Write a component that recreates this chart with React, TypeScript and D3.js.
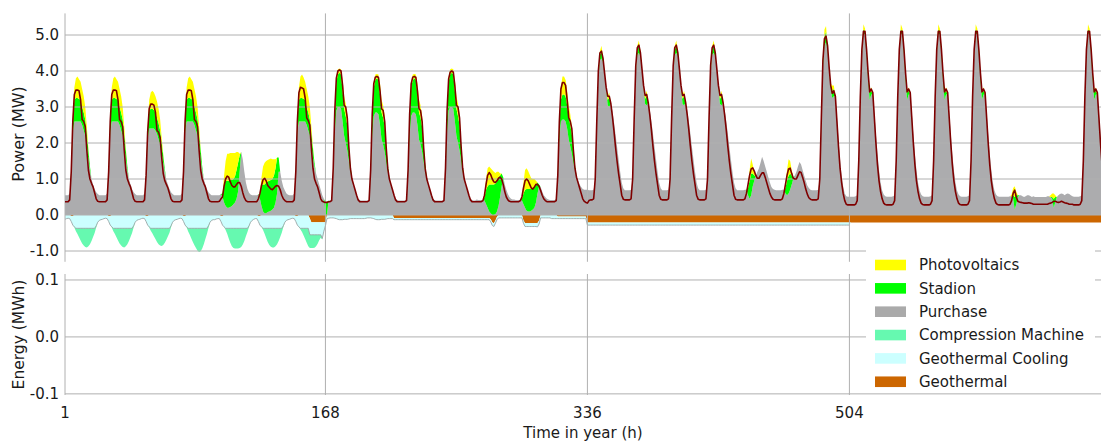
import React from "react";
import * as d3 from "d3";

// ---- hourly profiles, one row of 24 values per day (MW) ----

// Electrical load (line)
const load_w1 = [0.37,0.37,0.37,0.42,1.2,2.6, 3.35,3.47,3.47,3.45,3.2,2.65, 2.6,2.45,1.8,1.25,1.0,0.88, 0.78,0.62,0.45,0.38,0.37,0.37];
const load_w1_d2 = [0.37,0.37,0.37,0.42,1.1,2.3, 2.95,3.08,3.08,3.05,2.85,2.35, 2.3,2.15,1.6,1.15,0.95,0.85, 0.75,0.6,0.45,0.38,0.37,0.37];
const load_w1_d4 = [0.37,0.37,0.37,0.38,0.45,0.5, 0.8,1.0,1.08,1.05,0.92,0.82, 0.78,0.78,0.85,0.9,0.9,0.8, 0.62,0.48,0.4,0.37,0.37,0.37];
const load_w1_d5 = [0.37,0.37,0.37,0.37,0.45,0.6, 0.82,0.98,1.02,0.95,0.82,0.77, 0.72,0.7,0.75,0.8,0.82,0.8, 0.7,0.55,0.45,0.4,0.37,0.37];
const load_w1_d6 = [0.37,0.37,0.37,0.42,1.2,2.6, 3.4,3.55,3.53,3.5,3.25,2.7, 2.62,2.5,1.85,1.3,1.0,0.88, 0.78,0.62,0.45,0.38,0.36,0.35];
const load_w2_d7 = [0.35,0.37,0.37,0.4,1.3,2.9, 3.8,4.0,4.03,4.0,3.6,3.05, 3.0,2.7,1.9,1.3,1.0,0.85, 0.7,0.55,0.42,0.37,0.37,0.37];
const load_w2_d8 = [0.37,0.37,0.37,0.4,1.25,2.8, 3.65,3.83,3.85,3.82,3.45,2.95, 2.9,2.6,1.85,1.28,1.0,0.85, 0.7,0.55,0.42,0.37,0.37,0.37];
const load_w2_d10 = [0.37,0.37,0.37,0.4,1.3,2.9, 3.78,3.97,4.0,3.97,3.58,3.05, 3.0,2.7,1.9,1.3,1.0,0.85, 0.7,0.55,0.42,0.37,0.37,0.37];
const load_w2_d11 = [0.37,0.37,0.37,0.37,0.4,0.55, 0.85,1.1,1.18,1.12,1.0,0.92, 0.9,0.95,1.02,1.05,1.0,0.85, 0.65,0.5,0.42,0.38,0.37,0.37];
const load_w2_d12 = [0.37,0.37,0.37,0.37,0.4,0.5, 0.75,0.95,1.0,0.95,0.85,0.75, 0.72,0.78,0.85,0.85,0.8,0.68, 0.55,0.45,0.4,0.37,0.37,0.37];
const load_w2_d13 = [0.37,0.37,0.37,0.4,1.1,2.6, 3.5,3.68,3.68,3.6,3.2,2.7, 2.6,2.4,1.8,1.3,1.05,0.9, 0.75,0.6,0.45,0.38,0.35,0.33];
const load_w3_d14 = [0.4,0.42,0.42,0.45,1.0,2.6, 4.0,4.5,4.55,4.35,3.95,3.55, 3.3,3.3,3.1,2.75,2.35,1.9, 1.5,1.15,0.85,0.55,0.44,0.42];
const load_w3_d15 = [0.42,0.42,0.42,0.45,1.0,2.7, 4.15,4.65,4.72,4.5,4.05,3.6, 3.32,3.35,3.12,2.78,2.38,1.92, 1.5,1.15,0.85,0.55,0.44,0.42];
const load_w3_d18 = [0.42,0.42,0.42,0.42,0.45,0.6, 0.85,1.1,1.28,1.31,1.22,1.1, 1.02,1.02,1.1,1.17,1.17,1.05, 0.9,0.75,0.6,0.5,0.44,0.42];
const load_w3_d19 = [0.42,0.42,0.42,0.42,0.45,0.6, 0.85,1.1,1.28,1.3,1.15,1.02, 1.0,1.0,1.1,1.2,1.18,1.05, 0.9,0.72,0.58,0.48,0.44,0.42];
const load_w3_d20 = [0.42,0.42,0.42,0.45,1.0,2.7, 4.3,4.9,4.97,4.7,4.1,3.6, 3.38,3.45,3.3,2.6,1.9,1.3, 0.9,0.6,0.4,0.3,0.28,0.28];
const load_w4 = [0.28,0.28,0.28,0.3,0.4,1.5, 3.3,4.6,5.1,5.1,4.6,3.95, 3.42,3.5,3.4,2.7,2.0,1.4, 0.95,0.65,0.45,0.33,0.29,0.28];
const load_w4_d25 = [0.28,0.28,0.28,0.28,0.28,0.28, 0.3,0.4,0.6,0.69,0.5,0.38, 0.36,0.35,0.34,0.33,0.33,0.33, 0.34,0.33,0.32,0.3,0.3,0.3];
const load_w4_d26 = [0.3,0.3,0.3,0.3,0.3,0.3, 0.3,0.32,0.33,0.35,0.38,0.38, 0.36,0.35,0.36,0.38,0.36,0.34, 0.33,0.32,0.3,0.3,0.3,0.28];

// Purchase
const buy_w1 = [0.55,0.55,0.55,0.6,1.2,2.3, 2.6,2.6,2.6,2.6,2.6,2.5, 2.35,2.2,1.9,1.55,1.25,1.0, 0.85,0.72,0.63,0.58,0.55,0.55];
const buy_w1_d2 = [0.55,0.55,0.55,0.6,1.1,2.1, 2.4,2.4,2.4,2.4,2.35,2.25, 2.1,1.95,1.7,1.45,1.2,0.98, 0.85,0.72,0.63,0.58,0.55,0.55];
const buy_w1_d4 = [0.55,0.55,0.55,0.55,0.58,0.5, 0.35,0.25,0.2,0.2,0.22,0.25, 0.3,0.35,0.45,0.65,1.2,1.75, 1.55,1.2,0.9,0.72,0.62,0.57];
const buy_w1_d5 = [0.55,0.55,0.55,0.55,0.57,0.45, 0.25,0.1,0.05,0.05,0.08,0.1, 0.12,0.15,0.2,0.35,0.6,1.2, 1.2,0.95,0.78,0.68,0.6,0.56];
const buy_w1_d6 = [0.55,0.55,0.55,0.6,1.2,2.3, 2.6,2.6,2.6,2.6,2.6,2.5, 2.35,2.2,1.9,1.6,1.35,1.15, 1.0,0.85,0.7,0.55,0.45,0];
const buy_w2_d7 = [0,0.4,0.4,0.42,1.2,2.3, 2.9,3.0,3.0,2.95,2.6,2.2, 2.0,1.8,1.5,1.2,1.0,0.85, 0.7,0.55,0.45,0.42,0.4,0.4];
const buy_w2_d8 = [0.4,0.4,0.4,0.42,1.15,2.2, 2.75,2.85,2.85,2.8,2.5,2.1, 1.95,1.75,1.45,1.2,1.0,0.85, 0.7,0.55,0.45,0.42,0.4,0.4];
const buy_w2_d10 = [0.4,0.4,0.4,0.42,1.2,2.3, 2.9,3.0,3.0,2.95,2.6,2.2, 2.0,1.8,1.5,1.2,1.0,0.85, 0.7,0.55,0.45,0.42,0.4,0.4];
const buy_w2_d11 = [0.43,0.42,0.42,0.42,0.42,0.4, 0.3,0.2,0.1,0.05,0,0, 0.02,0.1,0.25,0.5,0.8,1.0, 0.85,0.7,0.58,0.5,0.45,0.43];
const buy_w2_d12 = [0.43,0.42,0.42,0.42,0.42,0.4, 0.3,0.2,0.12,0.1,0.1,0.12, 0.15,0.2,0.35,0.6,0.8,0.78, 0.65,0.55,0.5,0.45,0.43,0.42];
const buy_w2_d13 = [0.42,0.42,0.42,0.45,1.0,2.1, 2.6,2.65,2.65,2.6,2.4,2.1, 1.9,1.7,1.45,1.25,1.1,0.95, 0.85,0.78,0.72,0.7,0.7,0.7];
const buy_w3_d14 = [0.69,0.69,0.69,0.7,1.0,2.5, 3.8,4.3,4.35,4.25,3.95,3.5, 3.05,3.0,3.1,2.9,2.6,2.25, 1.9,1.55,1.2,0.9,0.74,0.69];
const buy_w3_d15 = [0.69,0.69,0.69,0.7,1.0,2.6, 3.95,4.45,4.5,4.4,4.05,3.55, 3.08,3.05,3.12,2.92,2.62,2.27, 1.9,1.55,1.2,0.9,0.74,0.69];
const buy_w3_d18 = [0.69,0.69,0.69,0.69,0.7,0.7, 0.55,0.45,0.55,0.8,0.95,1.1, 1.2,1.3,1.45,1.62,1.5,1.35, 1.2,1.05,0.9,0.78,0.72,0.7];
const buy_w3_d19 = [0.69,0.69,0.69,0.69,0.7,0.7, 0.6,0.55,0.6,0.7,0.85,1.0, 1.1,1.2,1.35,1.47,1.4,1.25, 1.1,0.95,0.82,0.75,0.7,0.69];
const buy_w3_d20 = [0.69,0.69,0.69,0.7,1.0,2.6, 4.1,4.7,4.8,4.55,4.05,3.5, 3.25,3.3,3.3,2.75,2.1,1.55, 1.1,0.8,0.6,0.52,0.51,0.51];
const buy_w4 = [0.51,0.51,0.51,0.52,0.55,1.5, 3.2,4.45,5.05,5.0,4.45,3.75, 3.2,3.35,3.35,2.85,2.25,1.7, 1.25,0.9,0.68,0.57,0.52,0.51];
const buy_w4_d25 = [0.51,0.51,0.51,0.51,0.51,0.51, 0.52,0.52,0.45,0.15,0.3,0.5, 0.55,0.55,0.52,0.5,0.52,0.55, 0.55,0.53,0.5,0.52,0.5,0.5];
const buy_w4_d26 = [0.5,0.5,0.5,0.5,0.5,0.5, 0.52,0.52,0.5,0.45,0.2,0.35, 0.5,0.55,0.58,0.6,0.58,0.55, 0.58,0.6,0.58,0.55,0.52,0.51];

// Stadion
const chp_w1 = [0,0,0,0,0.05,0.35, 0.6,0.65,0.65,0.62,0.6,0.5, 0.5,0.45,0.35,0.25,0.1,0, 0,0,0,0,0,0];
const chp_w1_d2 = [0,0,0,0,0.05,0.3, 0.5,0.55,0.55,0.52,0.5,0.45, 0.45,0.4,0.3,0.2,0.08,0, 0,0,0,0,0,0];
const chp_w1_d4 = [0,0,0,0,0,0.1, 0.55,0.7,0.75,0.75,0.75,0.72, 0.7,0.72,0.8,0.8,0.45,0, 0,0,0,0,0,0];
const chp_w1_d5 = [0,0,0,0,0,0.15, 0.6,0.75,0.8,0.85,0.85,0.85, 0.85,0.85,0.9,0.95,1.0,0.4, 0,0,0,0,0,0];
const chp_w1_d6 = [0,0,0,0,0.05,0.35, 0.6,0.65,0.65,0.62,0.6,0.5, 0.5,0.45,0.35,0.25,0.1,0, 0,0,0,0,0,0.35];
const chp_w2_d7 = [0.37,0,0,0,0.1,0.5, 0.8,0.9,0.95,0.95,0.85,0.75, 0.75,0.7,0.45,0.2,0.05,0, 0,0,0,0,0,0];
const chp_w2 = [0,0,0,0,0.1,0.5, 0.8,0.9,0.95,0.95,0.85,0.75, 0.75,0.7,0.45,0.2,0.05,0, 0,0,0,0,0,0];
const chp_w2_d11 = [0,0,0,0,0,0.1, 0.4,0.6,0.75,0.8,0.85,0.85, 0.85,0.85,0.8,0.6,0.35,0.05, 0,0,0,0,0,0];
const chp_w2_d12 = [0,0,0,0,0,0.05, 0.3,0.5,0.6,0.62,0.62,0.6, 0.6,0.6,0.5,0.3,0.05,0, 0,0,0,0,0,0];
const chp_w2_d13 = [0,0,0,0,0.1,0.4, 0.6,0.7,0.7,0.7,0.65,0.6, 0.6,0.55,0.4,0.15,0,0, 0,0,0,0,0,0];
const chp_w3 = [0,0,0,0,0,0, 0,0.15,0.2,0.1,0,0, 0.15,0.25,0,0,0,0, 0,0,0,0,0,0];
const chp_w3_d18 = [0,0,0,0,0,0, 0.2,0.5,0.6,0.35,0.15,0, 0,0,0,0,0,0, 0,0,0,0,0,0];
const chp_w3_d19 = [0,0,0,0,0,0, 0.15,0.4,0.5,0.45,0.25,0.05, 0,0,0,0,0,0, 0,0,0,0,0,0];
const chp_w3_d20 = [0,0,0,0,0,0.1, 0.15,0.25,0.3,0.15,0,0.1, 0.2,0.2,0,0,0,0, 0,0,0,0,0,0];
const chp_w4 = [0,0,0,0,0,0, 0,0.05,0.1,0.1,0.2,0.2, 0.2,0.1,0,0,0,0, 0,0,0,0,0,0];
const chp_w4_d25 = [0,0,0,0,0,0, 0,0,0.1,0.35,0.25,0.05, 0,0,0,0,0,0, 0,0,0,0,0,0];
const chp_w4_d26 = [0,0,0,0,0,0, 0,0,0,0.05,0.25,0.15, 0,0,0,0,0,0, 0,0,0,0,0,0];

// Photovoltaics
const pv_w1 = [0,0,0,0,0,0.1, 0.35,0.55,0.6,0.55,0.5,0.5, 0.45,0.35,0.2,0.05,0,0, 0,0,0,0,0,0];
const pv_w1_d2 = [0,0,0,0,0,0.08, 0.3,0.45,0.5,0.48,0.45,0.45, 0.4,0.3,0.15,0.05,0,0, 0,0,0,0,0,0];
const pv_w1_d4 = [0,0,0,0,0,0, 0.2,0.55,0.75,0.75,0.75,0.75, 0.72,0.65,0.5,0.3,0.05,0, 0,0,0,0,0,0];
const pv_w1_d5 = [0,0,0,0,0,0, 0.2,0.5,0.6,0.6,0.6,0.6, 0.6,0.55,0.45,0.25,0,0, 0,0,0,0,0,0];
const pv_w1_d6 = [0,0,0,0,0,0.1, 0.35,0.6,0.65,0.6,0.5,0.5, 0.45,0.35,0.2,0.05,0,0, 0,0,0,0,0,0];
const pv_w2 = [0,0,0,0,0,0.1, 0.15,0.15,0.12,0.15,0.3,0.35, 0.35,0.3,0.05,0,0,0, 0,0,0,0,0,0];
const pv_w2_d11 = [0,0,0,0,0,0.05, 0.3,0.5,0.5,0.45,0.4,0.35, 0.3,0.25,0.15,0.05,0,0, 0,0,0,0,0,0];
const pv_w2_d12 = [0,0,0,0,0,0.05, 0.3,0.55,0.58,0.5,0.4,0.3, 0.25,0.2,0.1,0,0,0, 0,0,0,0,0,0];
const pv_w2_d13 = [0,0,0,0,0,0.15, 0.35,0.5,0.5,0.45,0.4,0.35, 0.3,0.2,0.05,0,0,0, 0,0,0,0,0,0];
const pv_w3 = [0,0,0,0,0,0, 0,0.1,0.15,0.05,0,0, 0.1,0.15,0,0,0,0, 0,0,0,0,0,0];
const pv_w3_d18 = [0,0,0,0,0,0, 0.1,0.3,0.42,0.25,0.1,0, 0,0,0,0,0,0, 0,0,0,0,0,0];
const pv_w3_d19 = [0,0,0,0,0,0, 0.1,0.3,0.45,0.35,0.15,0, 0,0,0,0,0,0, 0,0,0,0,0,0];
const pv_w3_d20 = [0,0,0,0,0,0, 0.1,0.2,0.15,0.05,0,0.05, 0.15,0.1,0,0,0,0, 0,0,0,0,0,0];
const pv_w4 = [0,0,0,0,0,0, 0,0.05,0.15,0.08,0,0, 0.05,0.1,0,0,0,0, 0,0,0,0,0,0];
const pv_w4_d25 = [0,0,0,0,0,0, 0,0.05,0.2,0.3,0.1,0, 0,0,0,0,0,0, 0,0,0,0,0,0];
const pv_w4_d26 = [0,0,0,0,0,0, 0,0,0.05,0.1,0.15,0.05, 0,0,0,0,0,0, 0,0,0,0,0,0];

// Geothermal (drawn downward from zero)
const ZERO = [0,0,0,0,0,0, 0,0,0,0,0,0, 0,0,0,0,0,0, 0,0,0,0,0,0];
const geo_w1 = [0,0,0,0,0.03,0.03, 0,0,0,0,0,0, 0,0,0,0,0,0, 0,0,0,0,0,0];
const geo_w1_d6 = [0,0,0,0,0.03,0.03, 0,0,0,0,0,0, 0,0.1,0.2,0.2,0.2,0.2, 0.2,0.2,0.2,0.2,0.2,0.2];
const geo_w2_d8 = [0,0,0,0,0,0, 0,0,0,0,0,0, 0,0,0,0,0,0, 0,0.08,0.08,0.08,0.08,0.08];
const geo_w2_thin = [0.08,0.08,0.08,0.08,0.08,0.08, 0.08,0.08,0.08,0.08,0.08,0.08, 0.08,0.08,0.08,0.08,0.08,0.08, 0.08,0.08,0.08,0.08,0.08,0.08];
const geo_w2_d11 = [0.08,0.08,0.08,0.08,0.08,0.08, 0.08,0.08,0.08,0.12,0.2,0.23, 0.15,0.05,0,0,0,0, 0,0,0,0,0,0];
const geo_w2_d12 = [0,0,0,0,0,0, 0.15,0.22,0.22,0.22,0.22,0.22, 0.22,0.22,0.22,0.22,0.15,0, 0,0,0,0,0,0];
const geo_w2_d13 = [0,0,0,0,0.04,0.04, 0.04,0.04,0.04,0.04,0.04,0.04, 0.04,0.04,0.04,0.04,0.04,0.04, 0.04,0.04,0.04,0.04,0.04,0.21];
const geo_full = [0.21,0.21,0.21,0.21,0.21,0.21, 0.21,0.21,0.21,0.21,0.21,0.21, 0.21,0.21,0.21,0.21,0.21,0.21, 0.21,0.21,0.21,0.21,0.21,0.21];

// Geothermal cooling
const cool_w1 = [0.12,0.1,0.09,0.1,0.15,0.25, 0.33,0.37,0.37,0.37,0.37,0.37, 0.37,0.37,0.37,0.37,0.37,0.37, 0.37,0.37,0.3,0.2,0.15,0.13];
const cool_w1_d4 = [0.13,0.11,0.1,0.1,0.15,0.25, 0.33,0.37,0.37,0.37,0.37,0.37, 0.37,0.37,0.37,0.37,0.37,0.37, 0.37,0.37,0.37,0.37,0.3,0.2];
const cool_w1_d5 = [0.15,0.12,0.1,0.1,0.15,0.25, 0.33,0.37,0.37,0.37,0.37,0.37, 0.37,0.37,0.37,0.37,0.37,0.37, 0.37,0.37,0.3,0.2,0.15,0.13];
const cool_w1_d6 = [0.12,0.1,0.09,0.1,0.15,0.25, 0.33,0.37,0.37,0.37,0.37,0.37, 0.37,0.45,0.35,0.35,0.35,0.35, 0.35,0.35,0.35,0.45,0.25,0.1];
const cool_w2_d7 = [0.1,0.09,0.08,0.08,0.08,0.09, 0.1,0.12,0.13,0.13,0.13,0.12, 0.12,0.12,0.11,0.1,0.1,0.1, 0.1,0.1,0.1,0.1,0.1,0.1];
const cool_w2_d8 = [0.1,0.09,0.08,0.08,0.08,0.09, 0.1,0.12,0.13,0.13,0.13,0.12, 0.12,0.12,0.11,0.1,0.1,0.1, 0.1,0.05,0.05,0.05,0.05,0.05];
const cool_w2_thin = [0.05,0.05,0.05,0.05,0.05,0.05, 0.05,0.05,0.05,0.05,0.05,0.05, 0.05,0.05,0.05,0.05,0.05,0.05, 0.05,0.05,0.05,0.05,0.05,0.05];
const cool_w2_d11 = [0.05,0.05,0.05,0.05,0.05,0.05, 0.05,0.05,0.05,0.07,0.09,0.09, 0.08,0.08,0.08,0.08,0.08,0.08, 0.08,0.08,0.08,0.08,0.08,0.08];
const cool_w2_d12 = [0.08,0.08,0.08,0.08,0.08,0.08, 0.08,0.1,0.1,0.1,0.1,0.1, 0.1,0.1,0.1,0.11,0.1,0.08, 0.08,0.08,0.08,0.08,0.08,0.08];
const cool_w2_d13 = [0.1,0.1,0.1,0.1,0.06,0.06, 0.06,0.06,0.06,0.06,0.06,0.06, 0.06,0.06,0.06,0.06,0.06,0.06, 0.06,0.06,0.06,0.06,0.06,0.07];
const cool_w3 = [0.07,0.07,0.07,0.07,0.07,0.07, 0.07,0.07,0.07,0.07,0.07,0.07, 0.07,0.07,0.07,0.07,0.07,0.07, 0.07,0.07,0.07,0.07,0.07,0.07];

// Compression machine
const comp_w1 = [0,0,0,0,0,0, 0.02,0.08,0.16,0.25,0.34,0.42, 0.48,0.52,0.53,0.5,0.44,0.35, 0.24,0.13,0.05,0,0,0];
const comp_w1_d2 = [0,0,0,0,0,0, 0.02,0.07,0.14,0.22,0.3,0.38, 0.44,0.48,0.49,0.46,0.4,0.32, 0.22,0.12,0.04,0,0,0];
const comp_w1_d3 = [0,0,0,0,0,0, 0.02,0.09,0.18,0.28,0.38,0.47, 0.55,0.62,0.66,0.64,0.56,0.44, 0.3,0.16,0.06,0,0,0];
const comp_w1_d4 = [0,0,0,0,0,0, 0,0.05,0.15,0.28,0.4,0.5, 0.55,0.56,0.56,0.56,0.55,0.52, 0.45,0.35,0.22,0.1,0.03,0];
const comp_w1_d5 = [0,0,0,0,0,0, 0,0.05,0.15,0.27,0.38,0.46, 0.51,0.53,0.53,0.5,0.44,0.35, 0.24,0.12,0.04,0,0,0];
const comp_w1_d6 = [0,0,0,0,0,0, 0,0.03,0.1,0.2,0.3,0.4, 0.5,0.37,0.37,0.37,0.36,0.32, 0.25,0.15,0.08,0.03,0,0];

// ---- day sequences (4 weeks) ----
const loadDays = [
  load_w1, load_w1, load_w1_d2, load_w1, load_w1_d4, load_w1_d5, load_w1_d6,
  load_w2_d7, load_w2_d8, load_w2_d8, load_w2_d10, load_w2_d11, load_w2_d12, load_w2_d13,
  load_w3_d14, load_w3_d15, load_w3_d15, load_w3_d15, load_w3_d18, load_w3_d19, load_w3_d20,
  load_w4, load_w4, load_w4, load_w4, load_w4_d25, load_w4_d26, load_w4,
];
const purchaseDays = [
  buy_w1, buy_w1, buy_w1_d2, buy_w1, buy_w1_d4, buy_w1_d5, buy_w1_d6,
  buy_w2_d7, buy_w2_d8, buy_w2_d8, buy_w2_d10, buy_w2_d11, buy_w2_d12, buy_w2_d13,
  buy_w3_d14, buy_w3_d15, buy_w3_d15, buy_w3_d15, buy_w3_d18, buy_w3_d19, buy_w3_d20,
  buy_w4, buy_w4, buy_w4, buy_w4, buy_w4_d25, buy_w4_d26, buy_w4,
];
const stadionDays = [
  chp_w1, chp_w1, chp_w1_d2, chp_w1, chp_w1_d4, chp_w1_d5, chp_w1_d6,
  chp_w2_d7, chp_w2, chp_w2, chp_w2, chp_w2_d11, chp_w2_d12, chp_w2_d13,
  chp_w3, chp_w3, chp_w3, chp_w3, chp_w3_d18, chp_w3_d19, chp_w3_d20,
  chp_w4, chp_w4, chp_w4, chp_w4, chp_w4_d25, chp_w4_d26, chp_w4,
];
const pvDays = [
  pv_w1, pv_w1, pv_w1_d2, pv_w1, pv_w1_d4, pv_w1_d5, pv_w1_d6,
  pv_w2, pv_w2, pv_w2, pv_w2, pv_w2_d11, pv_w2_d12, pv_w2_d13,
  pv_w3, pv_w3, pv_w3, pv_w3, pv_w3_d18, pv_w3_d19, pv_w3_d20,
  pv_w4, pv_w4, pv_w4, pv_w4, pv_w4_d25, pv_w4_d26, pv_w4,
];
const geoDays = [
  geo_w1, geo_w1, geo_w1, geo_w1, geo_w1, geo_w1, geo_w1_d6,
  ZERO, geo_w2_d8, geo_w2_thin, geo_w2_thin, geo_w2_d11, geo_w2_d12, geo_w2_d13,
  geo_full, geo_full, geo_full, geo_full, geo_full, geo_full, geo_full,
  geo_full, geo_full, geo_full, geo_full, geo_full, geo_full, geo_full,
];
const coolDays = [
  cool_w1, cool_w1, cool_w1, cool_w1, cool_w1_d4, cool_w1_d5, cool_w1_d6,
  cool_w2_d7, cool_w2_d8, cool_w2_thin, cool_w2_thin, cool_w2_d11, cool_w2_d12, cool_w2_d13,
  cool_w3, cool_w3, cool_w3, cool_w3, cool_w3, cool_w3, cool_w3,
  ZERO, ZERO, ZERO, ZERO, ZERO, ZERO, ZERO,
];
const compDays = [
  comp_w1, comp_w1, comp_w1_d2, comp_w1_d3, comp_w1_d4, comp_w1_d5, comp_w1_d6,
  ZERO, ZERO, ZERO, ZERO, ZERO, ZERO, ZERO,
  ZERO, ZERO, ZERO, ZERO, ZERO, ZERO, ZERO,
  ZERO, ZERO, ZERO, ZERO, ZERO, ZERO, ZERO,
];

const powerTicks = [-1, 0, 1, 2, 3, 4, 5];
const energyTicks = [-0.1, 0, 0.1];
const hourTicks = [1, 168, 336, 504];

const legendItems = [
  { label: "Photovoltaics", color: "#ffff00" },
  { label: "Stadion", color: "#00ff00" },
  { label: "Purchase", color: "#aaaaaa" },
  { label: "Compression Machine", color: "#66f9b0" },
  { label: "Geothermal Cooling", color: "#ccffff" },
  { label: "Geothermal", color: "#cc6600" },
];

const COLORS: Record<string, string> = {
  purchase: "#acacae",
  stadion: "#00ff00",
  pv: "#ffff00",
  geo: "#cc6600",
  cool: "#ccffff",
  comp: "#66f9b0",
};

const FONT = "DejaVu Sans, Verdana, sans-serif";
const GRID = "#b0b0b0";

export default function App() {
  const load = loadDays.flat();
  const purchase = purchaseDays.flat();
  const stadion = stadionDays.flat();
  const pv = pvDays.flat();
  const geo = geoDays.flat();
  const cool = coolDays.flat();
  const comp = compDays.flat();
  const n = load.length;
  const hours = d3.range(1, n + 1);

  const records = hours.map((h, i) => ({
    h,
    purchase: purchase[i],
    stadion: stadion[i],
    pv: pv[i],
    geo: geo[i],
    cool: cool[i],
    comp: comp[i],
  }));

  const x = d3.scaleLinear().domain([1, 672]).range([65, 1111.4]);
  const yTop = d3.scaleLinear().domain([-1.3, 5.6]).range([261.8, 13.4]);
  const yBot = d3.scaleLinear().domain([-0.102, 0.1105]).range([395, 274]);

  const posKeys = ["purchase", "stadion", "pv"];
  const negKeys = ["geo", "cool", "comp"];
  const posStack = d3.stack<any>().keys(posKeys)(records);
  const negStack = d3.stack<any>().keys(negKeys)(records);

  const posArea = d3
    .area<any>()
    .x((d) => x(d.data.h))
    .y0((d) => yTop(d[0]))
    .y1((d) => yTop(d[1]));
  const negArea = d3
    .area<any>()
    .x((d) => x(d.data.h))
    .y0((d) => yTop(-d[0]))
    .y1((d) => yTop(-d[1]));

  const loadLine = d3
    .line<number>()
    .x((_, i) => x(hours[i]))
    .y((v) => yTop(v));

  const coolEdge = d3
    .line<number>()
    .defined((_, i) => cool[i] > 0)
    .x((_, i) => x(hours[i]))
    .y((_, i) => yTop(-(geo[i] + cool[i])));

  const xLeft = 65;
  const xRight = 1111.4;
  const topY0 = 13.4;
  const topY1 = 261.8;
  const botY0 = 274;
  const botY1 = 395;

  return (
    <svg
      width={1101}
      height={442}
      style={{ position: "absolute", left: 0, top: 0, display: "block", background: "#ffffff" }}
      fontFamily={FONT}
    >
      <defs>
        <clipPath id="topClip">
          <rect x={xLeft} y={topY0} width={xRight - xLeft} height={topY1 - topY0} />
        </clipPath>
      </defs>

      {/* power panel */}
      <g clipPath="url(#topClip)">
        {negStack.map((s) => (
          <path key={s.key} d={negArea(s) || ""} fill={COLORS[s.key]} />
        ))}
        {posStack.map((s) => (
          <path key={s.key} d={posArea(s) || ""} fill={COLORS[s.key]} />
        ))}
        <path d={coolEdge(cool) || ""} fill="none" stroke="#9aa6a6" strokeWidth={0.9} />
      </g>
      <g stroke={GRID} strokeWidth={1}>
        {powerTicks.map((t) => (
          <line key={t} x1={xLeft} x2={xRight} y1={yTop(t)} y2={yTop(t)} />
        ))}
        {hourTicks.map((t) => (
          <line key={t} x1={x(t)} x2={x(t)} y1={topY0} y2={topY1} />
        ))}
      </g>
      <g clipPath="url(#topClip)">
        <path d={loadLine(load) || ""} fill="none" stroke="#7f0000" strokeWidth={1.6} strokeLinejoin="round" />
      </g>
      {powerTicks.map((t) => (
        <text key={t} x={59} y={yTop(t) + 5.4} fontSize={15} textAnchor="end" fill="#1a1a1a">
          {t.toFixed(1)}
        </text>
      ))}
      <text
        transform={`translate(24,134) rotate(-90)`}
        fontSize={16}
        textAnchor="middle"
        fill="#1a1a1a"
      >
        Power (MW)
      </text>

      {/* energy panel */}
      <g stroke={GRID} strokeWidth={1}>
        {energyTicks.map((t) => (
          <line key={t} x1={xLeft} x2={xRight} y1={yBot(t)} y2={yBot(t)} />
        ))}
        {hourTicks.map((t) => (
          <line key={t} x1={x(t)} x2={x(t)} y1={botY0} y2={botY1} />
        ))}
      </g>
      {energyTicks.map((t) => (
        <text key={t} x={59} y={yBot(t) + 5.4} fontSize={15} textAnchor="end" fill="#1a1a1a">
          {t.toFixed(1)}
        </text>
      ))}
      <text
        transform={`translate(24,${(botY0 + botY1) / 2}) rotate(-90)`}
        fontSize={15.5}
        textAnchor="middle"
        fill="#1a1a1a"
      >
        Energy (MWh)
      </text>
      {hourTicks.map((t) => (
        <text key={t} x={x(t)} y={418} fontSize={15} textAnchor="middle" fill="#1a1a1a">
          {t}
        </text>
      ))}
      <text x={583} y={438} fontSize={15} textAnchor="middle" fill="#1a1a1a">
        Time in year (h)
      </text>

      {/* legend */}
      <g>
        <rect x={866} y={247} width={229} height={145} fill="#ffffff" />
        {legendItems.map((it, i) => {
          const cy = 265 + i * 23.35;
          return (
            <g key={it.label}>
              <rect x={875} y={cy - 5.3} width={31} height={10.6} fill={it.color} />
              <text x={919} y={cy + 5.4} fontSize={15} fill="#1a1a1a">
                {it.label}
              </text>
            </g>
          );
        })}
      </g>
    </svg>
  );
}
